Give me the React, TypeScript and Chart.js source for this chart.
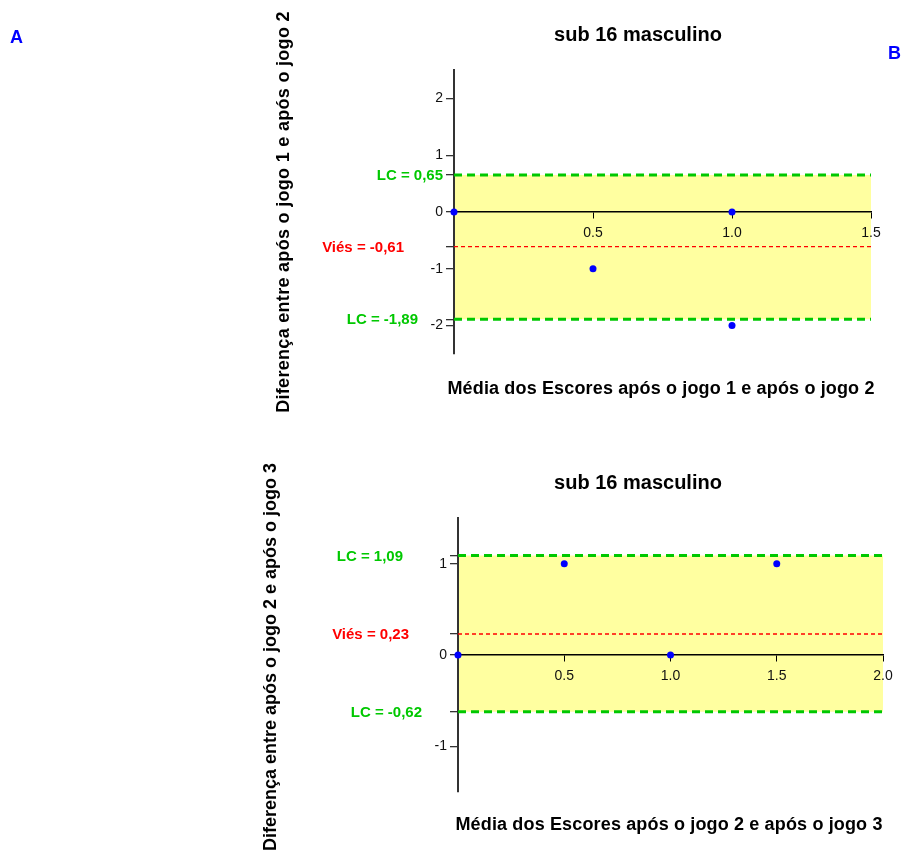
import React, { useEffect, useRef } from 'react';
import { Chart, registerables } from 'chart.js';

Chart.register(...registerables);

const FONT = '"Liberation Sans", Arial, sans-serif';

// ---------- Panel 1 data ----------
const meanScores1 = [0, 0.5, 1.0, 1.0];
const diffScores1 = [0, -1, 0, -2];
const limits1 = [0.65, -1.89];
const bias1 = -0.61;
const xTicks1 = [0, 0.5, 1.0, 1.5];
const yTicks1 = [-2, -1, 0, 1, 2];
const limitLabels1 = ['LC = 0,65', 'LC = -1,89'];
const biasLabel1 = 'Viés = -0,61';
const title1 = 'sub 16 masculino';
const xTitle1 = 'Média dos Escores após o jogo 1 e após o jogo 2';
const yTitle1 = 'Diferença entre após o jogo 1 e após o jogo 2';

// ---------- Panel 2 data ----------
const meanScores2 = [0, 0.5, 1.0, 1.5];
const diffScores2 = [0, 1, 0, 1];
const limits2 = [1.09, -0.62];
const bias2 = 0.23;
const xTicks2 = [0, 0.5, 1.0, 1.5, 2.0];
const yTicks2 = [-1, 0, 1];
const limitLabels2 = ['LC = 1,09', 'LC = -0,62'];
const biasLabel2 = 'Viés = 0,23';
const title2 = 'sub 16 masculino';
const xTitle2 = 'Média dos Escores após o jogo 2 e após o jogo 3';
const yTitle2 = 'Diferença entre após o jogo 2 e após o jogo 3';

const panelLetters = ['A', 'B'];

const GREEN = 'rgb(0,200,0)';
const RED = 'rgb(255,0,0)';
const BLUE = 'rgb(0,0,255)';
const YELLOW = 'rgb(255,255,160)';

const Y_AXIS_W = 50;

type Panel = {
  means: number[];
  diffs: number[];
  limits: number[];
  bias: number;
  xTicks: number[];
  yTicks: number[];
  limitLabels: string[];
  biasLabel: string;
  title: string;
  xTitle: string;
  yTitle: string;
  yMin: number;
  yMax: number;
  // layout (not data)
  height: number;
  padding: { left: number; right: number; top: number; bottom: number };
  titlePos: [number, number];
  xTitlePos: [number, number];
  yTitlePos: [number, number];
  yTitleSpacing: string;
  labelRight: [number, number, number]; // upper LC, bias, lower LC
  letters?: boolean;
};

const panels: Panel[] = [
  {
    means: meanScores1,
    diffs: diffScores1,
    limits: limits1,
    bias: bias1,
    xTicks: xTicks1,
    yTicks: yTicks1,
    limitLabels: limitLabels1,
    biasLabel: biasLabel1,
    title: title1,
    xTitle: xTitle1,
    yTitle: yTitle1,
    yMin: -2.5,
    yMax: 2.5,
    height: 428,
    padding: { left: 454 - Y_AXIS_W, right: 33, top: 70, bottom: 74 },
    titlePos: [638, 35],
    xTitlePos: [661, 389],
    yTitlePos: [284, 212],
    yTitleSpacing: '0.3px',
    labelRight: [443, 404, 418],
    letters: true,
  },
  {
    means: meanScores2,
    diffs: diffScores2,
    limits: limits2,
    bias: bias2,
    xTicks: xTicks2,
    yTicks: yTicks2,
    limitLabels: limitLabels2,
    biasLabel: biasLabel2,
    title: title2,
    xTitle: xTitle2,
    yTitle: yTitle2,
    yMin: -1.5,
    yMax: 1.5,
    height: 427,
    padding: { left: 458 - Y_AXIS_W, right: 21, top: 90, bottom: 63 },
    titlePos: [638, 55],
    xTitlePos: [669, 397],
    yTitlePos: [271, 229],
    yTitleSpacing: '0px',
    labelRight: [403, 409, 422],
  },
];

function makeConfig(p: Panel): any {
  const xMin = p.xTicks[0];
  const xMax = p.xTicks[p.xTicks.length - 1];
  const textPlugin = {
    id: 'panelText',
    afterDraw(chart: any) {
      const ctx = chart.ctx as any;
      const ys = chart.scales.y;
      ctx.save();
      ctx.textBaseline = 'middle';
      ctx.textAlign = 'center';
      ctx.fillStyle = '#000';
      ctx.font = `bold 20px ${FONT}`;
      ctx.fillText(p.title, p.titlePos[0], p.titlePos[1]);
      ctx.font = `bold 18px ${FONT}`;
      ctx.letterSpacing = '0.15px';
      ctx.fillText(p.xTitle, p.xTitlePos[0], p.xTitlePos[1]);
      ctx.save();
      ctx.letterSpacing = p.yTitleSpacing;
      ctx.translate(p.yTitlePos[0], p.yTitlePos[1]);
      ctx.rotate(-Math.PI / 2);
      ctx.fillText(p.yTitle, 0, 0);
      ctx.restore();
      ctx.letterSpacing = '0px';

      ctx.textAlign = 'right';
      ctx.font = `bold 15px ${FONT}`;
      ctx.fillStyle = GREEN;
      ctx.fillText(p.limitLabels[0], p.labelRight[0], ys.getPixelForValue(p.limits[0]) + 1);
      ctx.fillText(p.limitLabels[1], p.labelRight[2], ys.getPixelForValue(p.limits[1]) + 1);
      ctx.fillStyle = RED;
      ctx.fillText(p.biasLabel, p.labelRight[1], ys.getPixelForValue(p.bias) + 1);

      if (p.letters) {
        ctx.textAlign = 'left';
        ctx.textBaseline = 'alphabetic';
        ctx.fillStyle = BLUE;
        ctx.font = `bold 18px ${FONT}`;
        ctx.fillText(panelLetters[0], 10, 43);
        ctx.fillText(panelLetters[1], 888, 59);
      }
      ctx.restore();
    },
  };

  return {
    type: 'line',
    data: {
      datasets: [
        {
          data: [
            { x: xMin, y: p.limits[0] },
            { x: xMax, y: p.limits[0] },
          ],
          borderColor: GREEN,
          borderWidth: 3,
          borderDash: [8, 5],
          pointRadius: 0,
          fill: '+1',
          backgroundColor: YELLOW,
          clip: false,
        },
        {
          data: [
            { x: xMin, y: p.limits[1] },
            { x: xMax, y: p.limits[1] },
          ],
          borderColor: GREEN,
          borderWidth: 3,
          borderDash: [8, 5],
          pointRadius: 0,
          fill: false,
          clip: false,
        },
        {
          data: [
            { x: xMin, y: p.bias },
            { x: xMax, y: p.bias },
          ],
          borderColor: RED,
          borderWidth: 1.3,
          borderDash: [4, 3],
          pointRadius: 0,
          fill: false,
          clip: false,
        },
        {
          data: p.means.map((m, i) => ({ x: m, y: p.diffs[i] })),
          showLine: false,
          pointRadius: 3.5,
          pointBackgroundColor: BLUE,
          pointBorderColor: BLUE,
          pointBorderWidth: 0,
          fill: false,
          clip: false,
        },
      ],
    },
    options: {
      responsive: false,
      animation: false,
      layout: { padding: p.padding },
      plugins: {
        legend: { display: false },
        tooltip: { enabled: false },
        filler: { drawTime: 'beforeDraw' },
      },
      scales: {
        x: {
          type: 'linear',
          position: { y: 0 },
          min: xMin,
          max: xMax,
          afterBuildTicks: (s: any) => {
            s.ticks = p.xTicks.map((v) => ({ value: v }));
          },
          afterFit: (s: any) => {
            s.height = 0;
          },
          grid: {
            drawOnChartArea: false,
            drawTicks: true,
            tickLength: 6,
            color: '#000',
            lineWidth: 1,
          },
          border: { display: true, color: '#000', width: 1.5 },
          ticks: {
            autoSkip: false,
            maxRotation: 0,
            padding: 7,
            color: '#111',
            font: { family: FONT, size: 14 },
            callback: (v: number) => (v === 0 ? '' : v.toFixed(1)),
          },
        },
        y: {
          type: 'linear',
          position: 'left',
          min: p.yMin,
          max: p.yMax,
          afterBuildTicks: (s: any) => {
            const vals = [...p.yTicks, p.limits[0], p.limits[1], p.bias].sort((a, b) => a - b);
            s.ticks = vals.map((v) => ({ value: v }));
          },
          afterFit: (s: any) => {
            s.width = Y_AXIS_W;
          },
          grid: {
            drawOnChartArea: false,
            drawTicks: true,
            tickLength: 8,
            color: '#333',
            lineWidth: 1.3,
          },
          border: { display: true, color: '#333', width: 2 },
          ticks: {
            autoSkip: false,
            padding: 3,
            color: '#111',
            font: { family: FONT, size: 14 },
            callback: (v: number) => (p.yTicks.includes(v) ? String(v) : ''),
          },
        },
      },
    },
    plugins: [textPlugin],
  };
}

function PanelChart({ panel }: { panel: Panel }) {
  const ref = useRef<HTMLCanvasElement | null>(null);
  useEffect(() => {
    if (!ref.current) return;
    const chart = new Chart(ref.current, makeConfig(panel));
    return () => chart.destroy();
  }, [panel]);
  return (
    <canvas
      ref={ref}
      width={904}
      height={panel.height}
      style={{ display: 'block', width: 904, height: panel.height }}
    />
  );
}

export default function App() {
  return (
    <div style={{ position: 'absolute', left: 0, top: 0, width: 904, height: 855, background: '#fff' }}>
      {panels.map((p, i) => (
        <PanelChart key={i} panel={p} />
      ))}
    </div>
  );
}
